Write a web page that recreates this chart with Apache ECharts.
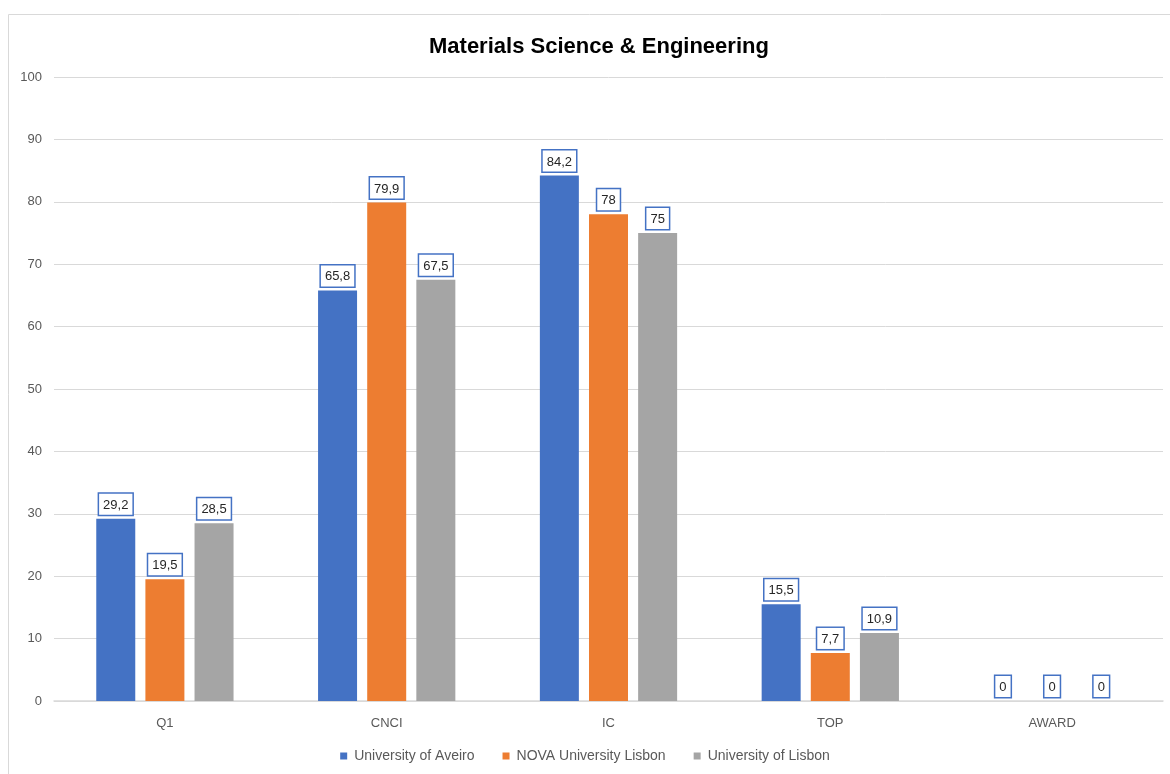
<!DOCTYPE html>
<html><head><meta charset="utf-8">
<script src="https://cdn.jsdelivr.net/npm/echarts@6/dist/echarts.min.js"></script>
<style>html,body{margin:0;padding:0;background:#fff}#c{width:1170px;height:774px}</style>
</head><body><div id="c"></div>
<script>
const categories = ['Q1', 'CNCI', 'IC', 'TOP', 'AWARD'];
const seriesNames = ['University of Aveiro', 'NOVA University Lisbon', 'University of Lisbon'];
const aveiro = [29.2, 65.8, 84.2, 15.5, 0];
const nova = [19.5, 79.9, 78, 7.7, 0];
const lisbon = [28.5, 67.5, 75, 10.9, 0];
const colors = ['#4472C4', '#ED7D31', '#A5A5A5'];
const FONT = '"Liberation Sans", Arial, sans-serif';

const chart = echarts.init(document.getElementById('c'));
const label = {
  show: true, position: 'top', distance: 4,
  formatter: p => String(p.value).replace('.', ','),
  color: '#262626', fontSize: 13, fontFamily: FONT,
  backgroundColor: '#fff', borderColor: '#4472C4', borderWidth: 1.5,
  padding: [5, 4, 3, 4]
};
const mk = (name, data, i) => ({
  name, type: 'bar', data, barWidth: 39, barGap: '26%',
  itemStyle: { color: colors[i] }, label
});
chart.setOption({
  animation: false,
  graphic: [{ type: 'rect', shape: { x: 8.5, y: 14.5, width: 1200, height: 800 },
    style: { fill: 'none', stroke: '#d9d9d9', lineWidth: 1 }, z: -1 }],
  title: { text: 'Materials Science & Engineering', left: 424, top: 31,
    textStyle: { fontFamily: FONT, fontSize: 22, fontWeight: 'bold', color: '#000' } },
  legend: { bottom: 6, itemWidth: 7, itemHeight: 7, itemGap: 28, icon: 'rect',
    textStyle: { fontFamily: FONT, fontSize: 14, color: '#595959', padding: [0, 0, 0, 2] } },
  grid: { left: 54, right: 7, top: 77, bottom: 73, containLabel: false },
  xAxis: { type: 'category', data: categories,
    axisLine: { lineStyle: { color: '#d9d9d9', width: 1.5 } }, axisTick: { show: false },
    axisLabel: { color: '#595959', fontFamily: FONT, fontSize: 13, margin: 16 } },
  yAxis: { type: 'value', min: 0, max: 100, interval: 10,
    axisLine: { show: false }, axisTick: { show: false },
    splitLine: { lineStyle: { color: '#d9d9d9', width: 1 } },
    axisLabel: { color: '#595959', fontFamily: FONT, fontSize: 13, margin: 12 } },
  series: [mk(seriesNames[0], aveiro, 0), mk(seriesNames[1], nova, 1), mk(seriesNames[2], lisbon, 2)]
});
</script></body></html>
